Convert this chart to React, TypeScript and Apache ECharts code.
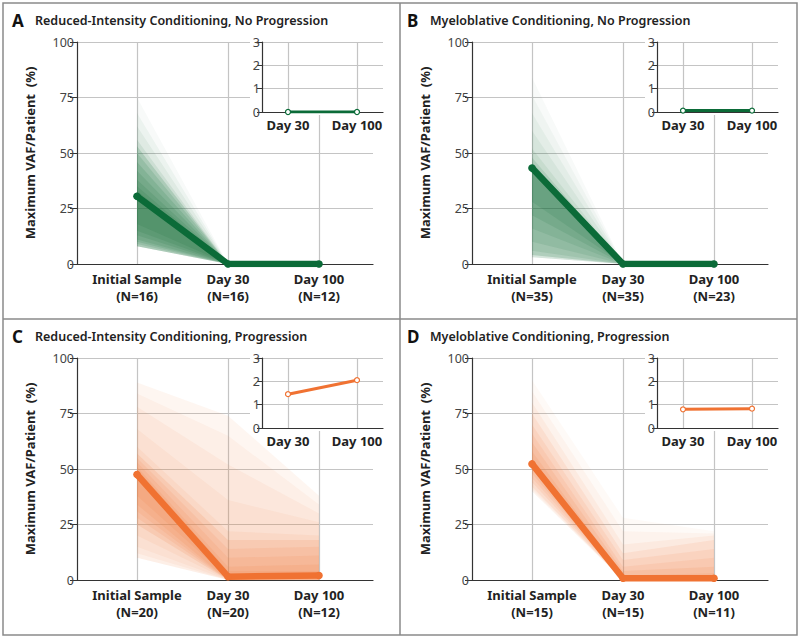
import React, { useEffect, useRef } from 'react';
import * as echarts from 'echarts';

// ---------- data ----------
const mainCategories = ['Initial Sample', 'Day 30', 'Day 100'];
const insetCategories = ['Day 30', 'Day 100'];
const mainYTicks = [0, 25, 50, 75, 100];
const insetYTicks = [0, 1, 2, 3];

const panelLetters = ['A', 'B', 'C', 'D'];
const panelTitles = [
  'Reduced-Intensity Conditioning, No Progression',
  'Myeloblative Conditioning, No Progression',
  'Reduced-Intensity Conditioning, Progression',
  'Myeloblative Conditioning, Progression',
];
const sampleCountsA = [16, 16, 12];
const sampleCountsB = [35, 35, 23];
const sampleCountsC = [20, 20, 12];
const sampleCountsD = [15, 15, 11];

// mean maximum VAF (%) at Initial Sample, Day 30, Day 100
const meanA = [30.5, 0, 0];
const meanB = [43.2, 0, 0];
const meanC = [47.5, 1.5, 2.0];
const meanD = [52.3, 0.8, 0.8];

// inset: Day 30, Day 100
const insetA = [0.0, 0.0];
const insetB = [0.06, 0.06];
const insetC = [1.45, 2.05];
const insetD = [0.8, 0.83];

// spread of patient trajectories: lower / upper bounds at the 3 time points, with density
const fanLowA = [[8, 0, 0], [8, 0, 0], [8, 0, 0], [8, 0, 0], [8, 0, 0], [9, 0, 0], [10, 0, 0], [11, 0, 0], [13, 0, 0], [15, 0, 0], [18, 0, 0]];
const fanHighA = [[75, 0, 0], [68, 0, 0], [62, 0, 0], [56, 0, 0], [53, 0, 0], [50, 0, 0], [46, 0, 0], [42, 0, 0], [38, 0, 0], [35, 0, 0], [33, 0, 0]];
const fanAlphaA = [0.03, 0.05, 0.06, 0.09, 0.17, 0.14, 0.14, 0.13, 0.13, 0.13, 0.13];

const fanLowB = [[3, 0, 0], [3, 0, 0], [3, 0, 0], [3, 0, 0], [4, 0, 0], [4, 0, 0], [6, 0, 0], [10, 0, 0], [16, 0, 0], [22, 0, 0], [28, 0, 0]];
const fanHighB = [[84, 0, 0], [76, 0, 0], [68, 0, 0], [60, 0, 0], [52, 0, 0], [48, 0, 0], [46, 0, 0], [45, 0, 0], [44, 0, 0], [43, 0, 0], [42, 0, 0]];
const fanAlphaB = [0.03, 0.04, 0.05, 0.06, 0.08, 0.12, 0.1, 0.1, 0.1, 0.12, 0.12];

const fanLowC = [[10, 0, 0], [10, 0, 0], [12, 0, 0], [15, 0, 0], [20, 0, 0], [25, 0, 0], [28, 0, 0], [31, 0, 0], [34, 0, 0], [38, 1, 1]];
const fanHighC = [[89, 74, 38], [84, 65, 34], [78, 52, 30], [68, 36, 26], [60, 22, 20], [57, 18, 18], [55, 14, 15], [53, 10, 11], [51, 6, 7], [50, 4, 4]];
const fanAlphaC = [0.07, 0.05, 0.06, 0.06, 0.08, 0.14, 0.11, 0.11, 0.12, 0.12];

const fanLowD = [[40, 0, 0], [40, 0, 0], [41, 0, 0], [42, 0, 0], [44, 0, 0], [46, 0, 0], [48, 0, 0], [50, 0, 0]];
const fanHighD = [[90, 28, 22], [85, 22, 21], [80, 16, 20], [75, 12, 18], [70, 9, 14], [66, 6, 10], [62, 4, 6], [58, 2, 3]];
const fanAlphaD = [0.04, 0.05, 0.07, 0.1, 0.1, 0.1, 0.12, 0.12];

const GREEN = '#0b6b38';
const GREEN_FAN = '20,110,55';
const ORANGE = '#f07232';
const ORANGE_FAN = '242,122,58';

const panels = [
  { counts: sampleCountsA, mean: meanA, inset: insetA, lo: fanLowA, hi: fanHighA, al: fanAlphaA, color: GREEN, fan: GREEN_FAN },
  { counts: sampleCountsB, mean: meanB, inset: insetB, lo: fanLowB, hi: fanHighB, al: fanAlphaB, color: GREEN, fan: GREEN_FAN },
  { counts: sampleCountsC, mean: meanC, inset: insetC, lo: fanLowC, hi: fanHighC, al: fanAlphaC, color: ORANGE, fan: ORANGE_FAN },
  { counts: sampleCountsD, mean: meanD, inset: insetD, lo: fanLowD, hi: fanHighD, al: fanAlphaD, color: ORANGE, fan: ORANGE_FAN },
];

const FONT = 'Noto Sans';
const GRID_GRAY = '#c4c4c4';
const AXIS_DARK = '#333';

export default function App() {
  const ref = useRef<HTMLDivElement>(null);
  useEffect(() => {
    document.body.style.margin = '0';
    const chart = echarts.init(ref.current!, null, { renderer: 'svg' });

    const grids: any[] = [];
    const xAxes: any[] = [];
    const yAxes: any[] = [];
    const series: any[] = [];
    const graphics: any[] = [];

    // frame
    graphics.push({ type: 'rect', shape: { x: 3, y: 3, width: 794, height: 632 }, style: { fill: 'none', stroke: '#8a8a8a', lineWidth: 1.5 }, z: 10 });
    graphics.push({ type: 'line', shape: { x1: 400, y1: 3, x2: 400, y2: 635 }, style: { stroke: '#8a8a8a', lineWidth: 1.5 }, z: 10 });
    graphics.push({ type: 'line', shape: { x1: 3, y1: 319, x2: 797, y2: 319 }, style: { stroke: '#8a8a8a', lineWidth: 1.5 }, z: 10 });

    panels.forEach((p, i) => {
      const dx = (i % 2) * 395;
      const dy = Math.floor(i / 2) * 316;
      const mainIdx = i * 2;
      const insetIdx = i * 2 + 1;

      graphics.push({ type: 'text', x: 12 + dx, y: 20 + dy, style: { text: panelLetters[i], font: `bold 17px "${FONT}"`, fill: '#111', verticalAlign: 'middle' }, z: 10 });
      graphics.push({ type: 'text', x: 35 + dx, y: 20 + dy, style: { text: panelTitles[i], font: `600 12.5px "${FONT}"`, fill: '#222', verticalAlign: 'middle' }, z: 10 });

      // main grid
      grids.push({ left: 77 + dx, top: 42 + dy, width: 296, height: 222 });
      xAxes.push({
        type: 'value', gridIndex: mainIdx, min: -60 / 91, max: 236 / 91,
        axisLine: { show: true, onZero: false, lineStyle: { color: AXIS_DARK, width: 1.2 } },
        axisTick: { show: false, customValues: [0, 1, 2] },
        axisLabel: {
          customValues: [0, 1, 2], margin: 6, color: '#222', fontFamily: FONT, fontWeight: 'bold', fontSize: 13, lineHeight: 17,
          formatter: (v: number) => `${mainCategories[Math.round(v)]}\n(N=${p.counts[Math.round(v)]})`,
        },
        splitLine: { show: true, lineStyle: { color: GRID_GRAY, width: 1.2 } },
      });
      yAxes.push({
        type: 'value', gridIndex: mainIdx, min: 0, max: 100, interval: 25,
        name: 'Maximum VAF/Patient  (%)', nameLocation: 'middle', nameGap: 41,
        nameTextStyle: { fontFamily: FONT, fontWeight: 'bold', fontSize: 13, color: '#222' },
        axisLine: { show: true, onZero: false, lineStyle: { color: AXIS_DARK, width: 1.2 } },
        axisTick: { show: true, length: 7, lineStyle: { color: AXIS_DARK } },
        axisLabel: { margin: 3, color: '#444', fontFamily: FONT, fontSize: 12.5, formatter: (v: number) => (mainYTicks.includes(v) ? String(v) : '') },
        splitLine: { show: true, lineStyle: { color: GRID_GRAY, width: 1.2 } },
      });

      // fan bands
      series.push({
        type: 'custom', xAxisIndex: mainIdx, yAxisIndex: mainIdx, z: 1, silent: true,
        data: p.lo.map((l: number[]) => [0, l[0]]),
        renderItem: (params: any, api: any) => {
          const k = params.dataIndex;
          const lo = p.lo[k];
          const hi = p.hi[k];
          const pts: number[][] = [];
          for (let t = 0; t < 3; t++) pts.push(api.coord([t, lo[t]]));
          for (let t = 2; t >= 0; t--) pts.push(api.coord([t, hi[t]]));
          return { type: 'polygon', shape: { points: pts }, style: { fill: `rgba(${p.fan},${p.al[k]})` } };
        },
      });
      // mean line
      series.push({
        type: 'line', xAxisIndex: mainIdx, yAxisIndex: mainIdx, z: 3, silent: true,
        data: p.mean.map((v: number, t: number) => [t, v]),
        symbol: 'circle', symbolSize: 7.5, showSymbol: true,
        itemStyle: { color: p.color },
        lineStyle: { color: p.color, width: 6.5, cap: 'round', join: 'round' },
      });

      // inset white background
      graphics.push({ type: 'rect', shape: { x: 250 + dx, y: 36 + dy, width: 135, height: 79 }, style: { fill: '#fff' }, z: 4 });

      grids.push({ left: 262 + dx, top: 42 + dy, width: 121, height: 70, z: 5 });
      xAxes.push({
        type: 'value', gridIndex: insetIdx, min: -26 / 69, max: 95 / 69, z: 6,
        axisLine: { show: true, onZero: false, lineStyle: { color: AXIS_DARK, width: 1.2 } },
        axisTick: { show: false, customValues: [0, 1] },
        axisLabel: {
          customValues: [0, 1], margin: 6, color: '#222', fontFamily: FONT, fontWeight: 'bold', fontSize: 13,
          formatter: (v: number) => insetCategories[Math.round(v)],
        },
        splitLine: { show: true, lineStyle: { color: GRID_GRAY, width: 1.2 } },
      });
      yAxes.push({
        type: 'value', gridIndex: insetIdx, min: 0, max: 3, interval: 1, z: 6,
        axisLine: { show: true, onZero: false, lineStyle: { color: AXIS_DARK, width: 1.2 } },
        axisTick: { show: true, length: 5, lineStyle: { color: AXIS_DARK } },
        axisLabel: { margin: 2, color: '#444', fontFamily: FONT, fontSize: 12.5, formatter: (v: number) => (insetYTicks.includes(v) ? String(v) : '') },
        splitLine: { show: true, lineStyle: { color: GRID_GRAY, width: 1.2 } },
      });
      series.push({
        type: 'line', xAxisIndex: insetIdx, yAxisIndex: insetIdx, z: 7, silent: true,
        data: p.inset.map((v: number, t: number) => [t, v]),
        symbol: 'circle', symbolSize: 5, showSymbol: true,
        itemStyle: { color: '#fff', borderColor: p.color, borderWidth: 1.2 },
        lineStyle: { color: p.color, width: 3 },
      });
    });

    chart.setOption({
      animation: false,
      backgroundColor: '#fff',
      grid: grids,
      xAxis: xAxes,
      yAxis: yAxes,
      series,
      graphic: graphics,
    });
    return () => chart.dispose();
  }, []);
  return <div ref={ref} style={{ width: 800, height: 640 }} />;
}
